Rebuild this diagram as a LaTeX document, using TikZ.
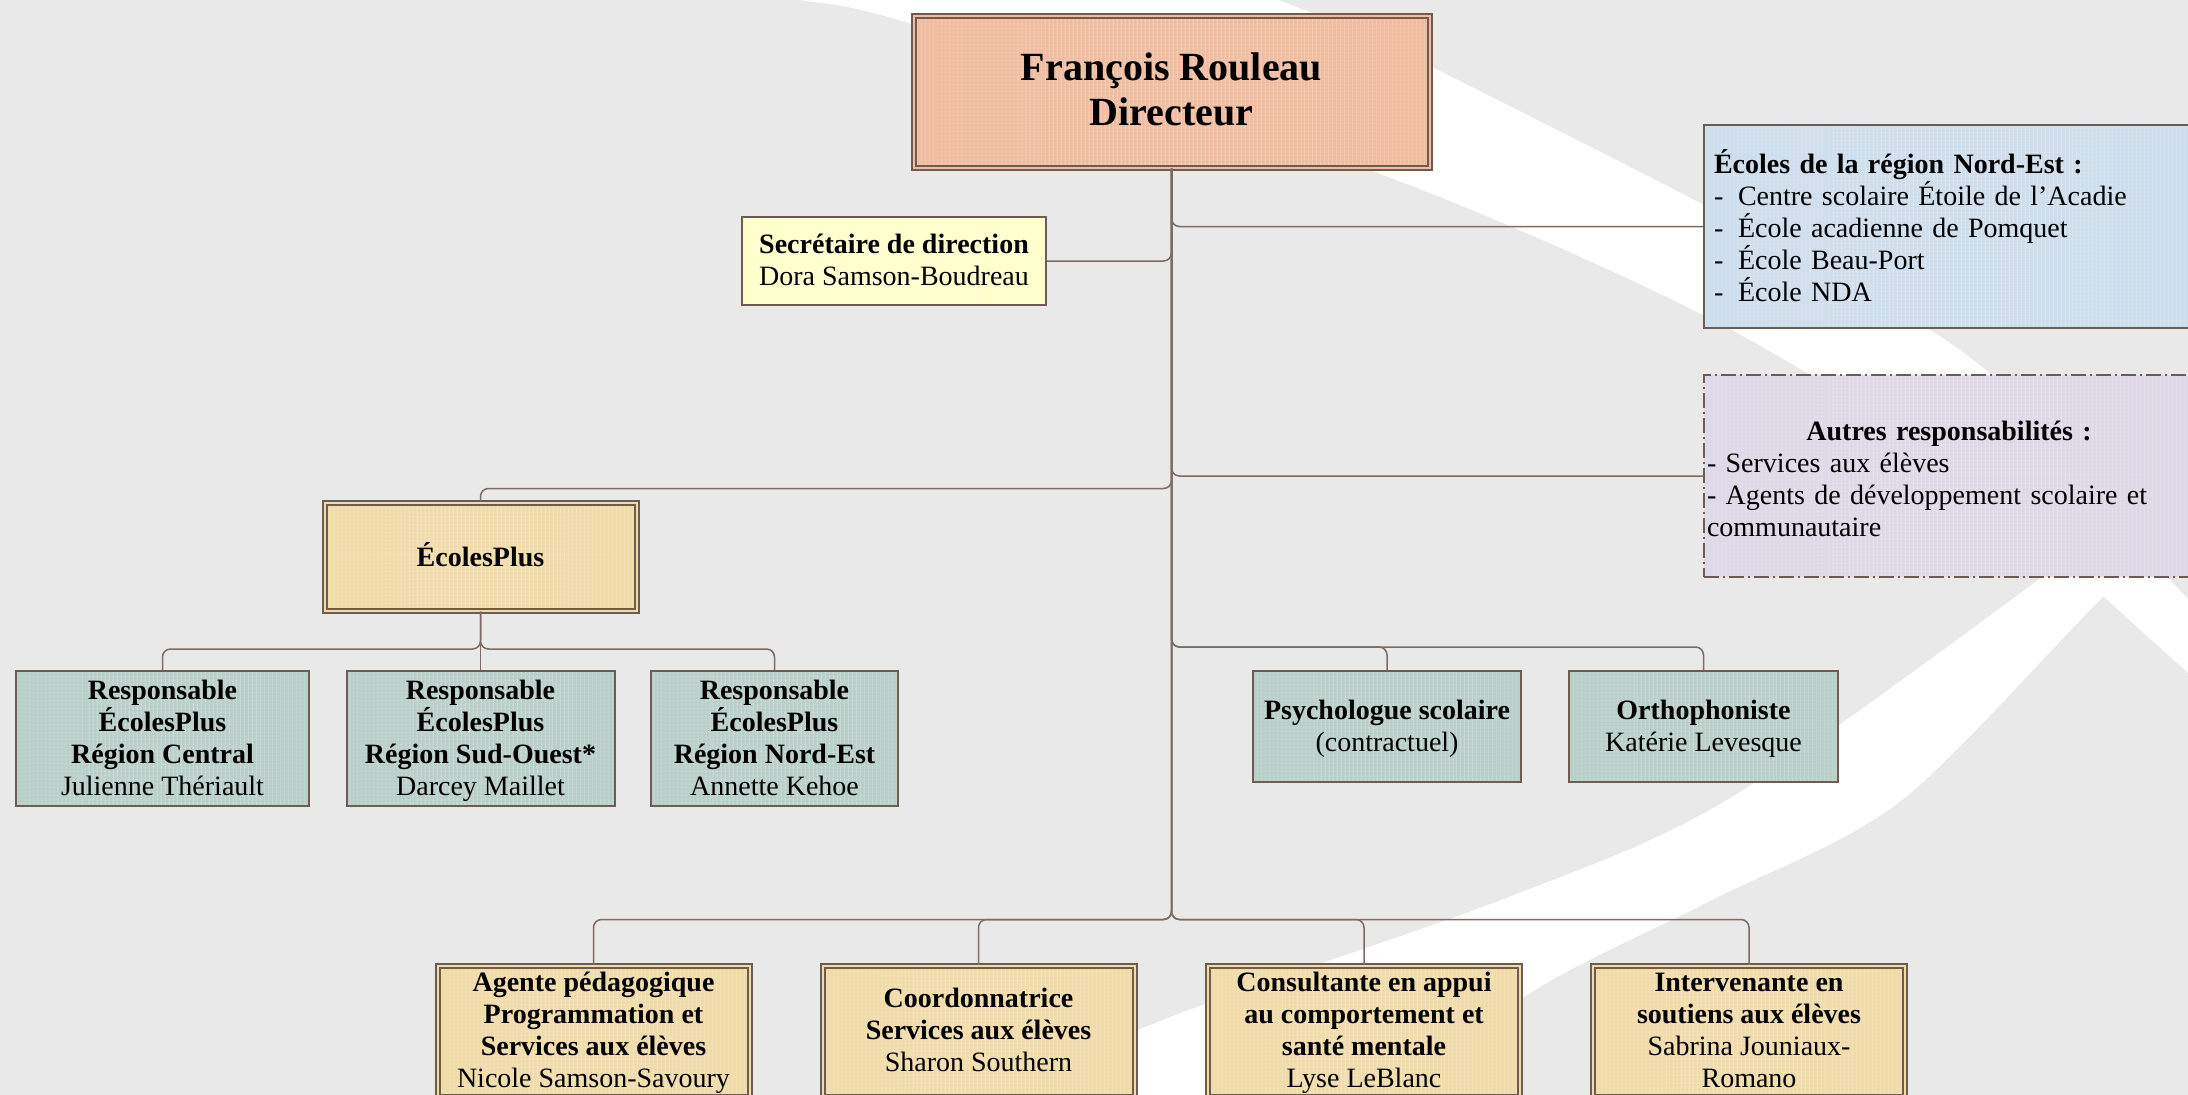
\documentclass[tikz,border=0pt]{standalone}
\usepackage{fontspec}
\setmainfont{Liberation Serif}
\usetikzlibrary{patterns.meta}
\definecolor{bgc}{HTML}{E9E9E9}
\definecolor{brd}{HTML}{6E5B52}
\definecolor{lnk}{HTML}{7E6B63}
\definecolor{sal}{HTML}{F0BDA0}
\definecolor{yel}{HTML}{FFFFCC}
\definecolor{blu}{HTML}{CEDEEC}
\definecolor{lav}{HTML}{DED9E6}
\definecolor{tan}{HTML}{F1DBA9}
\definecolor{teal}{HTML}{B8D0C9}
\newcommand\boxfont{\fontsize{28}{32}\selectfont\lineskiplimit=-20pt}
\newcommand\dirfont{\fontsize{40}{45}\selectfont\lineskiplimit=-20pt\bfseries}
\begin{document}
\begin{tikzpicture}[x=1pt,y=-1pt]
\tikzstyle{every node}+=[inner sep=0pt]
\tikzset{
  box/.style={draw=brd, line width=2pt, align=center, font=\boxfont, text depth=2pt,
    execute at begin node={\rule{0pt}{29.5pt}},
    preaction={fill=#1},
    preaction={pattern={Lines[angle=90,distance=4pt,line width=1.2pt]}, pattern color=#1!85!white}},
  dbox/.style={box=#1, line width=2pt, double=#1, double distance=2pt},
  link/.style={draw=lnk, line width=1.5pt, rounded corners=8pt}
}
\useasboundingbox (0,0) rectangle (2188,1095);
\clip (0,0) rectangle (2188,1095);
\fill[bgc] (0,0) rectangle (2188,1095);
\fill[white] plot[smooth] coordinates {(1240,-20) (1279,0) (1432,67) (1953,345) (2170,580) (2240,650)}
  -- plot[smooth] coordinates {(2240,720) (2085,580) (1960,470) (1707,317) (1375,172) (909,23) (801,0) (760,-12)} -- cycle;
\fill[white] plot[smooth] coordinates {(980,1130) (1136,1031) (1501,900) (1727,800) (2038,580) (2240,420)}
  -- plot[smooth] coordinates {(2240,500) (2121,580) (1902,800) (1712,900) (1530,993) (1350,1130)} -- cycle;

\node[dbox=sal, minimum width=516pt, minimum height=152pt, font=\dirfont, text depth=5pt] (dir) at (1171.5,91.5) {François Rouleau\\Directeur};
\node[box=yel, minimum width=304pt, minimum height=88pt] (sec) at (894,261) {\textbf{Secrétaire de direction}\\Dora Samson-Boudreau};
\node[box=blu, minimum width=490pt, minimum height=203pt, text width=470pt, align=left, text depth=, execute at end node={\rule[-7.6pt]{0pt}{7.6pt}}] (ne) at (1949,226.5) {\textbf{Écoles de la région Nord-Est :}\\\makebox[24pt][l]{-}Centre scolaire Étoile de l’Acadie\\\makebox[24pt][l]{-}École acadienne de Pomquet\\\makebox[24pt][l]{-}École Beau-Port\\\makebox[24pt][l]{-}École NDA};
\node[box=lav, dash pattern=on 15pt off 4pt on 2pt off 4pt, minimum width=490pt, minimum height=202pt, text width=484pt, align=left, text depth=, execute at end node={\rule[-3.6pt]{0pt}{3.6pt}}] (aut) at (1949,476) {{\centering\textbf{Autres responsabilités :}\par}- Services aux élèves\\- Agents de développement scolaire et\\communautaire};
\node[dbox=tan, minimum width=312pt, minimum height=108pt, font=\boxfont\bfseries, text depth=9pt] (ep) at (480.5,556.5) {ÉcolesPlus};
\node[box=teal, minimum width=293pt, minimum height=135pt] (r1) at (162.5,738.5) {\textbf{Responsable}\\\textbf{ÉcolesPlus}\\\textbf{Région Central}\\Julienne Thériault};
\node[box=teal, minimum width=268pt, minimum height=135pt] (r2) at (480.5,738.5) {\textbf{Responsable}\\\textbf{ÉcolesPlus}\\\textbf{Région Sud-Ouest*}\\Darcey Maillet};
\node[box=teal, minimum width=247pt, minimum height=135pt] (r3) at (774.5,738.5) {\textbf{Responsable}\\\textbf{ÉcolesPlus}\\\textbf{Région Nord-Est}\\Annette Kehoe};
\node[box=teal, minimum width=268pt, minimum height=111pt] (psy) at (1387,726.5) {\textbf{Psychologue scolaire}\\(contractuel)};
\node[box=teal, minimum width=269pt, minimum height=111pt] (orth) at (1703.5,726.5) {\textbf{Orthophoniste}\\Katérie Levesque};
\node[dbox=tan, minimum width=312pt, minimum height=131pt] (b1) at (593.5,1031) {\textbf{Agente pédagogique}\\\textbf{Programmation et}\\\textbf{Services aux élèves}\\Nicole Samson-Savoury};
\node[dbox=tan, minimum width=312pt, minimum height=131pt] (b2) at (978.5,1031) {\textbf{Coordonnatrice}\\\textbf{Services aux élèves}\\Sharon Southern};
\node[dbox=tan, minimum width=312pt, minimum height=131pt] (b3) at (1364,1031) {\textbf{Consultante en appui}\\\textbf{au comportement et}\\\textbf{santé mentale}\\Lyse LeBlanc};
\node[dbox=tan, minimum width=312pt, minimum height=131pt] (b4) at (1749,1031) {\textbf{Intervenante en}\\\textbf{soutiens aux élèves}\\Sabrina Jouniaux-\\Romano};

\draw[link] (dir.south) |- (sec.east);
\draw[link] (dir.south) |- (ne.west);
\draw[link] (dir.south) |- (aut.west);
\draw[link] (dir.south) |- ([yshift=13pt]ep.north) -- (ep.north);
\draw[link] (dir.south) |- ([yshift=23pt]psy.north) -- (psy.north);
\draw[link] (dir.south) |- ([yshift=23pt]orth.north) -- (orth.north);
\draw[link] (dir.south) |- ([yshift=45pt]b1.north) -- (b1.north);
\draw[link] (dir.south) |- ([yshift=45pt]b2.north) -- (b2.north);
\draw[link] (dir.south) |- ([yshift=45pt]b3.north) -- (b3.north);
\draw[link] (dir.south) |- ([yshift=45pt]b4.north) -- (b4.north);
\draw[link] (ep.south) |- ([yshift=21pt]r1.north) -- (r1.north);
\draw[link] (ep.south) |- ([yshift=21pt]r2.north) -- (r2.north);
\draw[link] (ep.south) |- ([yshift=21pt]r3.north) -- (r3.north);
\end{tikzpicture}
\end{document}
